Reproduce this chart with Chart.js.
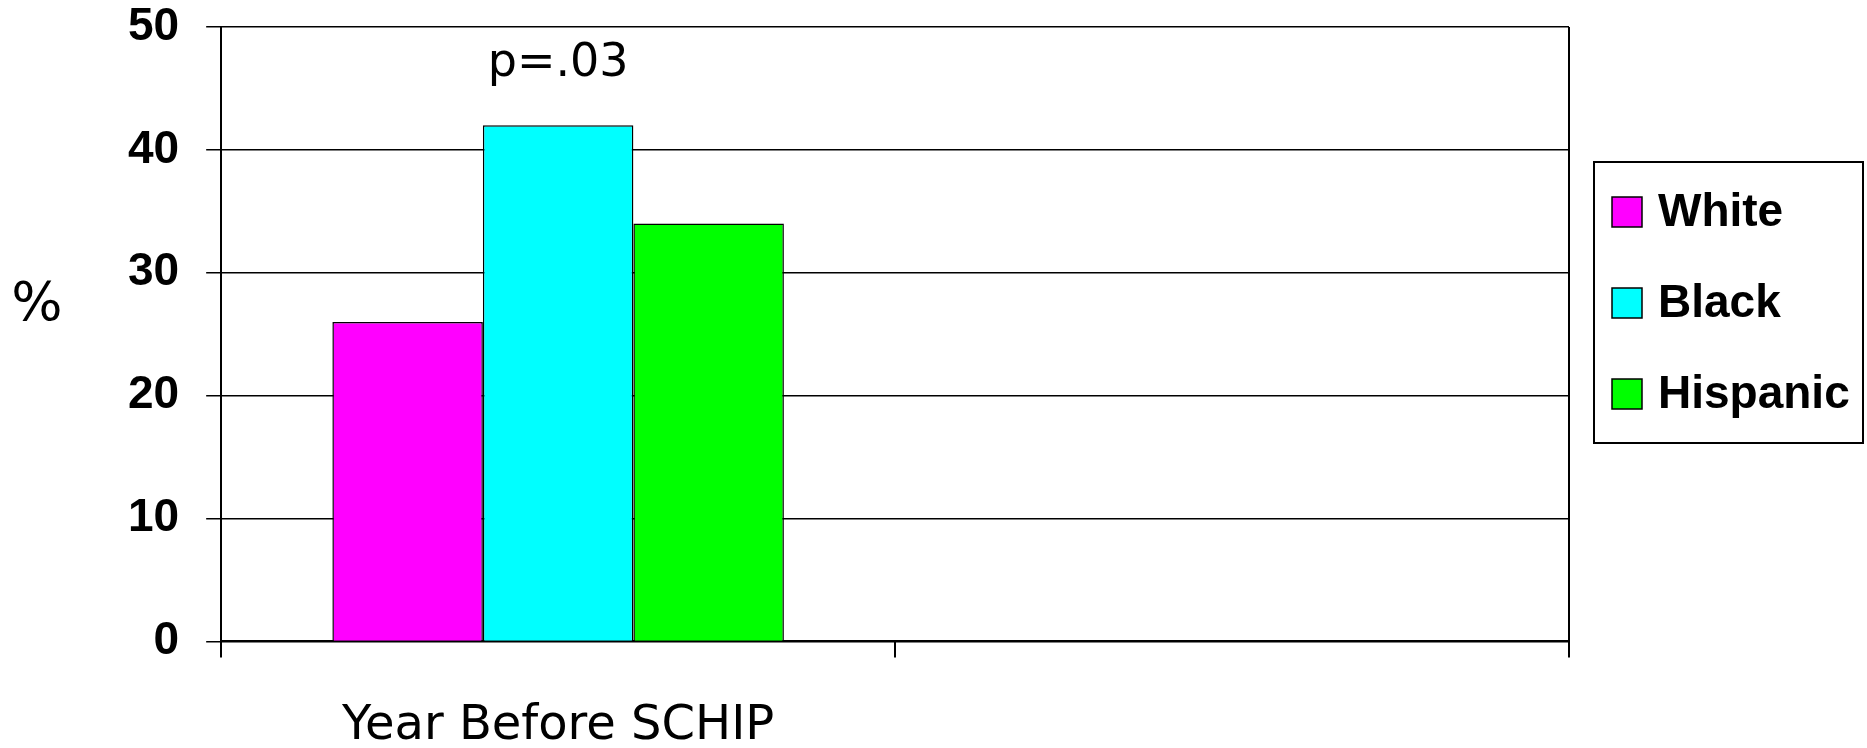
<!DOCTYPE html>
<html>
<head>
<meta charset="utf-8">
<title>SCHIP</title>
<script src="https://cdn.jsdelivr.net/npm/chart.js@4.4.1/dist/chart.umd.min.js"></script>
<style>
  html, body { margin: 0; padding: 0; background: #fff; }
  #wrap { width: 1867px; height: 748px; }
</style>
</head>
<body>
<div id="wrap"><canvas id="canvas"></canvas></div>
<script>
// categories and values
let categories = ['Year Before SCHIP', '']
let groups = ['White', 'Black', 'Hispanic']
let white = [26, null]
let black = [42, null]
let hispanic = [34, null]
let yTicks = [0, 10, 20, 30, 40, 50]
let note = 'p=.03'
let noteValue = 46
let yTitle = '%'

let colors = ['#ff00ff', '#00ffff', '#00ff00']
let series = [white, black, hispanic]

let datasets = []
for (let i = 0; i < groups.length; i++) {
    datasets.push({
        label: groups[i],
        data: series[i],
        backgroundColor: colors[i],
        borderColor: '#000',
        borderWidth: 1.5,
        categoryPercentage: 0.67,
        barPercentage: 1
    })
}

// draws the "%" title, the p value and the boxed legend
let extras = {
    id: 'extras',
    afterDraw(chart) {
        let ctx = chart.ctx
        let x = chart.scales.x
        let y = chart.scales.y
        ctx.save()
        ctx.fillStyle = '#000'
        ctx.textAlign = 'center'
        ctx.textBaseline = 'middle'

        ctx.font = '54px "DejaVu Sans"'
        ctx.fillText(yTitle, 37, 306)

        ctx.font = '46px "DejaVu Sans"'
        ctx.textBaseline = 'alphabetic'
        ctx.fillText(note, x.getPixelForValue(0), y.getPixelForValue(noteValue))

        // legend box
        let left = 1594, top = 162, w = 269, h = 281
        ctx.lineWidth = 2
        ctx.strokeStyle = '#000'
        ctx.strokeRect(left, top, w, h)
        ctx.font = 'bold 46px "Liberation Sans", Arial'
        ctx.textAlign = 'left'
        ctx.textBaseline = 'middle'
        chart.data.datasets.forEach(function(ds, i) {
            let cy = 212 + i * 91
            ctx.fillStyle = ds.backgroundColor
            ctx.fillRect(1612, cy - 15, 30, 30)
            ctx.lineWidth = 1.5
            ctx.strokeRect(1612, cy - 15, 30, 30)
            ctx.fillStyle = '#000'
            ctx.fillText(ds.label, 1658, cy + 1)
        })
        ctx.restore()
    }
}

var ctx = document.getElementById('canvas').getContext('2d');
var myChart = new Chart(ctx, {
    type: 'bar',
    data: {
        labels: categories,
        datasets: datasets
    },
    options: {
        responsive: true,
        maintainAspectRatio: false,
        animation: false,
        layout: {
            padding: { left: 101, right: 298, top: 0, bottom: -47 }
        },
        plugins: {
            legend: { display: false },
            tooltip: { enabled: false }
        },
        scales: {
            x: {
                grid: {
                    color: function(c) { return c.index === 1 ? 'rgba(0,0,0,0)' : '#000' },
                    tickColor: '#000',
                    lineWidth: 2,
                    tickLength: 16
                },
                border: { display: true, color: '#000', width: 2 },
                ticks: {
                    color: '#000',
                    padding: 40,
                    maxRotation: 0,
                    font: { family: '"DejaVu Sans"', size: 48 }
                }
            },
            y: {
                min: 0,
                max: 50,
                afterBuildTicks: function(scale) {
                    scale.ticks = yTicks.map(function(v) { return { value: v } })
                },
                grid: {
                    color: '#000',
                    lineWidth: 1.5,
                    tickLength: 15
                },
                border: { display: true, color: '#000', width: 2 },
                ticks: {
                    color: '#000',
                    padding: 27,
                    font: { family: '"Liberation Sans", Arial', size: 46, weight: 'bold', lineHeight: 0 }
                }
            }
        }
    },
    plugins: [extras]
});
</script>
</body>
</html>
